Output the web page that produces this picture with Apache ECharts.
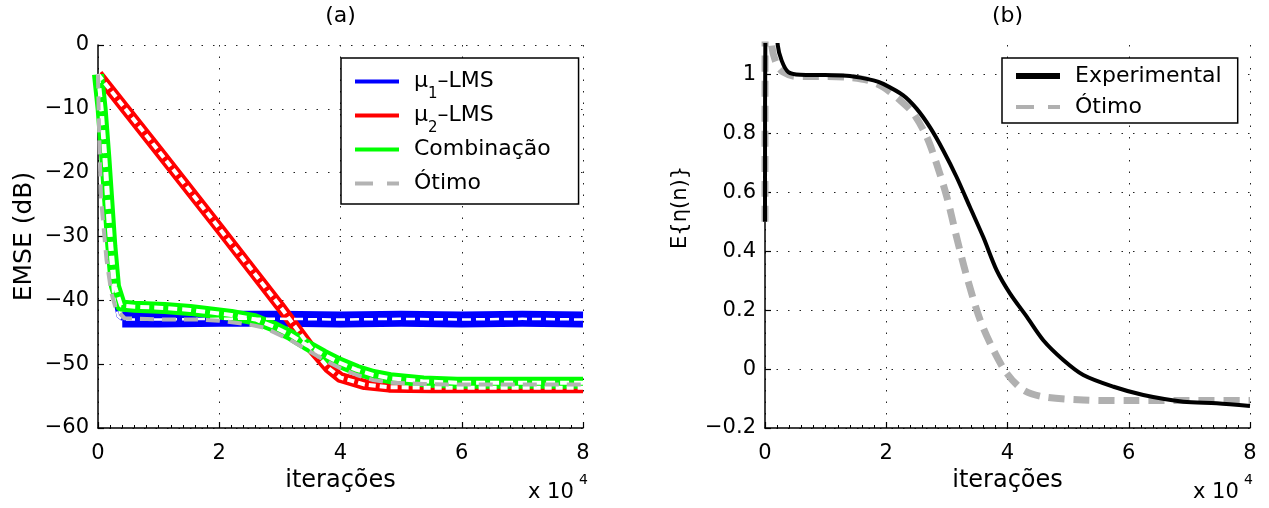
<!DOCTYPE html>
<html>
<head>
<meta charset="utf-8">
<script src="https://cdn.jsdelivr.net/npm/echarts@6/dist/echarts.min.js"></script>
<style>html,body{margin:0;padding:0;background:#fff}#c{width:1269px;height:508px}</style>
</head>
<body>
<div id="c"></div>
<script>
// ---------- data (x in units of 10^4 iterations) ----------
// Panel (a): EMSE (dB)
const mu1TransX = [0, 0.04, 0.11, 0.165, 0.25, 0.33, 0.40];
const mu1TransY = [-4.6, -10, -20, -28.4, -38.8, -42.5, -43.0];
const mu1SteadyX = [0.40, 1, 2, 3, 4, 5, 6, 7, 8];
const mu1SteadyY = [-43.0, -43.0, -42.9, -42.9, -43.0, -42.9, -43.0, -42.9, -43.0];
const mu2X = [0, 1, 2, 3, 3.5, 3.8, 4.0, 4.4, 4.8, 5.5, 6.5, 8];
const mu2Y = [-4.6, -16.6, -28.7, -40.9, -47.3, -50.6, -52.1, -53.2, -53.6, -53.7, -53.7, -53.7];
const combX = [0, 0.06, 0.12, 0.17, 0.22, 0.28, 0.38, 0.6, 1.1, 1.52, 2.2, 2.6, 2.89, 3.17, 3.44, 3.72, 3.99, 4.27, 4.54, 4.82, 5.37, 5.92, 7, 8];
const combY = [-4.6, -10, -17.5, -24.5, -31.5, -37.8, -40.8, -41.0, -41.2, -41.5, -42.3, -43.0, -44.1, -45.4, -47.0, -48.5, -49.8, -50.9, -51.7, -52.2, -52.7, -52.9, -52.9, -52.9];
const optAX = [0, 0.01, 0.03, 0.05, 0.08, 0.14, 0.22, 0.30, 0.44, 1.0, 1.65, 2.0, 2.5, 2.75, 3.17, 3.44, 3.72, 3.99, 4.27, 4.54, 4.82, 5.37, 6, 8];
const optAY = [-4.6, -10, -18, -24, -27.3, -33.6, -38.8, -41.5, -42.8, -43.0, -43.0, -43.2, -43.8, -44.3, -46.2, -47.7, -49.3, -50.6, -51.7, -52.5, -52.9, -53.1, -53.2, -53.2];
// Panel (b): E{eta(n)}
const expX = [0, 0.01, 0.15, 0.21, 0.275, 0.385, 0.58, 1.0, 1.4, 1.79, 1.95, 2.28, 2.50, 2.72, 2.94, 3.16, 3.38, 3.60, 3.82, 4.04, 4.32, 4.59, 4.92, 5.25, 5.75, 6.24, 6.90, 7.45, 8.0];
const expY = [0.5, 1.3, 1.3, 1.1, 1.047, 1.008, 0.999, 0.998, 0.995, 0.98, 0.968, 0.929, 0.884, 0.821, 0.742, 0.652, 0.550, 0.448, 0.336, 0.257, 0.177, 0.098, 0.031, -0.020, -0.060, -0.088, -0.111, -0.116, -0.125];
const optBX = [0, 0.005, 0.08, 0.11, 0.19, 0.30, 0.52, 1.0, 1.40, 1.7, 1.95, 2.23, 2.45, 2.67, 2.83, 3.00, 3.16, 3.33, 3.55, 3.77, 3.99, 4.26, 4.59, 5.25, 6.0, 7.0, 8.0];
const optBY = [0.5, 1.3, 1.3, 1.1, 1.036, 1.008, 0.993, 0.993, 0.99, 0.98, 0.957, 0.912, 0.867, 0.787, 0.697, 0.584, 0.448, 0.313, 0.166, 0.064, -0.015, -0.071, -0.094, -0.105, -0.107, -0.107, -0.107];
// axes / labels
const xRange = [0, 8];        // ×10^4
const yRangeA = [-60, 0];
const yRangeB = [-0.2, 1.1];
const xStep = 2, yStepA = 10, yStepB = 0.2;
const legendA = ['mu1', 'mu2', 'comb', 'otimoA'];
const legendB = ['exp', 'otimoB'];
const titles = ['(a)', '(b)'];
const xName = 'iterações';
const yNameA = 'EMSE (dB)';
const yNameB = 'E{η(n)}';

// ---------- helpers ----------
const pairs = (xs, ys) => xs.map((x, i) => [x, ys[i]]);
const FONT = 'DejaVu Sans';
const fmt = v => String(Math.round(v * 10) / 10).replace('-', '\u2212');
const dotted = { show: true, lineStyle: { color: '#222', width: 1, type: [1.5, 10] } };

function xAxis(gi) {
  return {
    type: 'value', gridIndex: gi, min: xRange[0], max: xRange[1], interval: xStep,
    name: xName, nameLocation: 'middle', nameGap: 36,
    nameTextStyle: { fontFamily: FONT, fontSize: 24, color: '#000' },
    axisLine: { show: true, onZero: false, lineStyle: { color: '#000', width: 1.5 } },
    axisTick: { show: true, inside: true, length: 6, lineStyle: { color: '#000', width: 1.2 } },
    minorTick: { show: true, splitNumber: 10, length: 3, lineStyle: { color: '#000', width: 1 } },
    axisLabel: { fontFamily: FONT, fontSize: 21, color: '#000', margin: 15, formatter: fmt },
    splitLine: dotted
  };
}
function yAxis(gi, r, step, name, gap, nameStyle) {
  return {
    type: 'value', gridIndex: gi, min: r[0], max: r[1], interval: step,
    name: name, nameLocation: 'middle', nameGap: gap,
    nameTextStyle: Object.assign({ fontFamily: FONT, color: '#000' }, nameStyle),
    axisLine: { show: true, onZero: false, lineStyle: { color: '#000', width: 1.5 } },
    axisTick: { show: true, inside: true, length: 6, lineStyle: { color: '#000', width: 1.2 } },
    axisLabel: { fontFamily: FONT, fontSize: 21, color: '#000', margin: 9, formatter: fmt, showMaxLabel: r[1] % step === 0 },
    splitLine: Object.assign({ showMaxLine: r[1] === 0 }, dotted)
  };
}
function line(name, xi, data, color, width, type, extra) {
  return Object.assign({
    type: 'line', name: name, xAxisIndex: xi, yAxisIndex: xi, data: data,
    showSymbol: false, symbol: 'none', silent: true, animation: false,
    lineStyle: { color: color, width: width, type: type || 'solid', join: 'round', cap: 'butt' },
    itemStyle: { color: color }
  }, extra || {});
}
const rich = {
  m0: { fontFamily: FONT, fontSize: 22, color: '#000', lineHeight: 26, padding: [0, 0, 0, 10] },
  m: { fontFamily: FONT, fontSize: 22, color: '#000', lineHeight: 26 },
  s: { fontFamily: FONT, fontSize: 15, color: '#000', lineHeight: 26, padding: [26, 0, 0, 0] }
};
const labelText = {
  mu1: '{m0|μ}{s|1}{m|–LMS}', mu2: '{m0|μ}{s|2}{m|–LMS}', comb: '{m0|Combinação}{s| }',
  otimoA: '{m0|Ótimo}{s| }', exp: '{m0|Experimental}', otimoB: '{m0|Ótimo}'
};
const legendColor = { mu1: '#0000ff', mu2: '#ff0000', comb: '#00ff00', otimoA: '#b3b3b3', exp: '#000000', otimoB: '#b0b0b0' };
const dashIcon = 'path://M0,0H18V4H0Z M32,0H44V4H32Z';
function legend(names, left, top, pad, gap, ih) {
  return {
    orient: 'vertical', left: left, top: top, padding: pad, itemGap: gap,
    itemWidth: 44, itemHeight: ih, selectedMode: false,
    backgroundColor: '#fff', borderColor: '#000', borderWidth: 1.5, borderRadius: 0,
    data: names.map(n => ({ name: n, icon: n.indexOf('otimo') === 0 ? dashIcon : 'rect',
      itemStyle: { color: legendColor[n], borderWidth: 0 } })),
    formatter: n => labelText[n],
    textStyle: { fontFamily: FONT, fontSize: 22, color: '#000', rich: rich }
  };
}

const chart = echarts.init(document.getElementById('c'), null, { renderer: 'canvas' });
chart.setOption({
  animation: false,
  backgroundColor: '#fff',
  title: [
    { text: titles[0], left: 340.5, top: 5, textAlign: 'center', padding: 0, textStyle: { fontFamily: FONT, fontSize: 22, fontWeight: 'normal', color: '#000' } },
    { text: titles[1], left: 1007.5, top: 5, textAlign: 'center', padding: 0, textStyle: { fontFamily: FONT, fontSize: 22, fontWeight: 'normal', color: '#000' } },
    { text: 'x 10', left: 528, top: 482, padding: 0, textStyle: { fontFamily: FONT, fontSize: 21, fontWeight: 'normal', color: '#000' } },
    { text: '4', left: 579, top: 473, padding: 0, textStyle: { fontFamily: FONT, fontSize: 14, fontWeight: 'normal', color: '#000' } },
    { text: 'x 10', left: 1193, top: 482, padding: 0, textStyle: { fontFamily: FONT, fontSize: 21, fontWeight: 'normal', color: '#000' } },
    { text: '4', left: 1244, top: 473, padding: 0, textStyle: { fontFamily: FONT, fontSize: 14, fontWeight: 'normal', color: '#000' } }
  ],
  grid: [
    { left: 98, top: 45, width: 485, height: 383, containLabel: false },
    { left: 765, top: 45, width: 485, height: 383, containLabel: false }
  ],
  xAxis: [xAxis(0), xAxis(1)],
  yAxis: [
    yAxis(0, yRangeA, yStepA, yNameA, 61, { fontSize: 25 }),
    yAxis(1, yRangeB, yStepB, yNameB, 74, { fontSize: 21, padding: [0, 0, 0, 58] })
  ],
  legend: [
    legend(legendA, 341, 58, [3, 23, 0, 14], -7, 4),
    legend(legendB, 1002, 58, [7, 16, 5, 14], 9, 6)
  ],
  series: [
    line('mu1', 0, pairs(mu1TransX, mu1TransY), '#0000ff', 3),
    line('mu1', 0, pairs(mu1SteadyX, mu1SteadyY), '#0000ff', 16),
    line('mu2', 0, pairs(mu2X, mu2Y), '#ff0000', 11),
    line('comb', 0, pairs(combX, combY), '#00ff00', 12),
    line('mu1 teoria', 0, pairs(mu1TransX, mu1TransY).concat(pairs(mu1SteadyX, mu1SteadyY).slice(1)), '#ffffff', 2.5, [9, 5]),
    line('mu2 teoria', 0, pairs(mu2X, mu2Y), '#ffffff', 4, [7, 4]),
    line('comb teoria', 0, pairs(combX, combY), '#ffffff', 4, [9, 5]),
    line('otimoA', 0, pairs(optAX, optAY), '#b3b3b3', 4, [14, 8]),
    line('otimoB', 1, pairs(optBX, optBY), '#b0b0b0', 7, [16, 9], { smooth: 0.3 }),
    line('exp', 1, pairs(expX, expY), '#000000', 4, 'solid', { smooth: 0.3 })
  ]
});
</script>
</body>
</html>
